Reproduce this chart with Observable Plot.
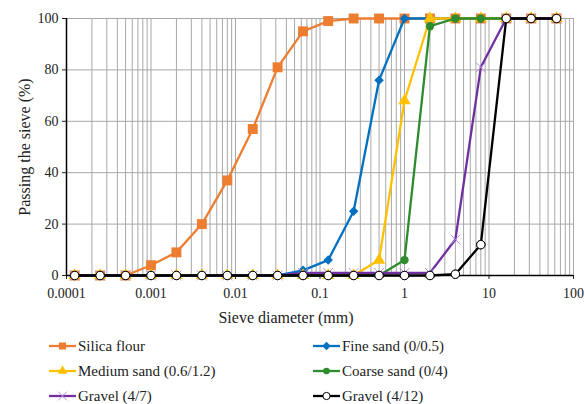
<!DOCTYPE html>
<html>
<head>
<meta charset="utf-8">
<script src="https://cdn.jsdelivr.net/npm/d3@7"></script>
<script src="https://cdn.jsdelivr.net/npm/@observablehq/plot@0.6"></script>
<style>
  html, body { margin: 0; padding: 0; background: #fff; }
  body { width: 585px; height: 404px; overflow: hidden; font-family: "Liberation Serif", "DejaVu Serif", serif; }
  #legend { position: relative; width: 585px; height: 74px; }
  .item { position: absolute; display: flex; align-items: center; font-size: 15px; color: #222; height: 20px; }
  .item svg { display: block; margin-right: 2px; }
  svg text { font-family: "Liberation Serif", "DejaVu Serif", serif; }
</style>
</head>
<body>
<div id="chart"></div>
<div id="legend"></div>
<script>
// Sieve sizes (mm)
const sizes = [0.000125, 0.00025, 0.0005, 0.001, 0.002, 0.004, 0.008, 0.016, 0.0315, 0.063, 0.125, 0.25, 0.5, 1, 2, 4, 8, 16, 31.5, 63];

// Passing the sieve (%)
const silicaFlour  = [0, 0, 0, 4, 9, 20, 37, 57, 81, 95, 99, 100, 100, 100, 100, 100, 100, 100, 100, 100];
const fineSand     = [0, 0, 0, 0, 0, 0, 0, 0, 0, 2, 6, 25, 76, 100, 100, 100, 100, 100, 100, 100];
const mediumSand   = [0, 0, 0, 0, 0, 0, 0, 0, 0, 0, 0, 0, 6, 68, 100, 100, 100, 100, 100, 100];
const coarseSand   = [0, 0, 0, 0, 0, 0, 0, 0, 0, 0, 0, 0, 0, 6, 97, 100, 100, 100, 100, 100];
const gravel47     = [0, 0, 0, 0, 0, 0, 0, 0, 0, 1, 1, 1, 1, 1, 1, 14, 81, 100, 100, 100];
const gravel412    = [0, 0, 0, 0, 0, 0, 0, 0, 0, 0, 0, 0, 0, 0, 0, 0.5, 12, 100, 100, 100];

const seriesNames = ["Silica flour", "Fine sand (0/0.5)", "Medium sand (0.6/1.2)", "Coarse sand (0/4)", "Gravel (4/7)", "Gravel (4/12)"];
const seriesValues = [silicaFlour, fineSand, mediumSand, coarseSand, gravel47, gravel412];

const xTicks = [0.0001, 0.001, 0.01, 0.1, 1, 10, 100];
const yTicks = [0, 20, 40, 60, 80, 100];
const xTitle = "Sieve diameter (mm)";
const yTitle = "Passing the sieve (%)";

const FONT = '"Liberation Serif", "DejaVu Serif", serif';

const styles = [
  {color: "#ED7D31", symbol: "square", r: 5.6, fill: "#ED7D31", stroke: "none", lr: 4},
  {color: "#0070C0", symbol: "diamond2", r: 4.3, fill: "#0070C0", stroke: "none", lr: 3.4},
  {color: "#FFC000", symbol: "triangle", r: 4.6, fill: "#FFC000", stroke: "none", lr: 3.6},
  {color: "#2E8B2E", symbol: "circle", r: 4.2, fill: "#2E8B2E", stroke: "none", lr: 3.3},
  {color: "#7030A0", symbol: "times", r: 4.5, fill: "none", stroke: "#B48FD8", lr: 4},
  {color: "#000000", symbol: "circle", r: 4.2, fill: "#ffffff", stroke: "#000000", lr: 3.6}
];

// grid positions: 1..9 x 10^k
const gridX = [];
for (let k = -4; k <= 1; k++) for (let m = 1; m <= 9; m++) gridX.push(m * Math.pow(10, k));
gridX.push(100);

const data = [];
seriesNames.forEach((name, i) => {
  sizes.forEach((s, j) => data.push({series: name, idx: i, size: s, pass: seriesValues[i][j]}));
});

const marks = [
  Plot.ruleX(gridX, {stroke: "#a8a8a8", strokeWidth: 1}),
  Plot.ruleY(yTicks.filter(d => d > 0), {stroke: "#a8a8a8", strokeWidth: 1}),
  Plot.axisX({ticks: xTicks, tickFormat: d => d.toString(), tickSize: 4, fontSize: 14, tickPadding: 9, label: null}),
  Plot.axisY({ticks: yTicks, tickSize: 4, fontSize: 14, tickPadding: 4,
    label: yTitle, labelAnchor: "center", labelOffset: 48, labelArrow: "none"}),
  Plot.text([xTitle], {frameAnchor: "bottom", text: d => d, dx: -34, dy: 47, fontSize: 16, fill: "#222"}),
  Plot.ruleX([0.0001], {stroke: "#000", strokeWidth: 1.5}),
];
seriesNames.forEach((name, i) => {
  const st = styles[i];
  const d = data.filter(e => e.idx === i);
  marks.push(Plot.line(d, {x: "size", y: "pass", stroke: st.color, strokeWidth: 2.3}));
  marks.push(Plot.dot(d, {x: "size", y: "pass", symbol: () => st.symbol, r: st.r,
    fill: st.fill, stroke: st.stroke, strokeWidth: 1}));
});
marks.push(Plot.ruleY([0], {stroke: "#000", strokeWidth: 1.5}));
{
  const st = styles[5];
  const d = data.filter(e => e.idx === 5);
  marks.push(Plot.dot(d, {x: "size", y: "pass", symbol: "circle", r: st.r, fill: st.fill, stroke: st.stroke, strokeWidth: 1}));
}

const chart = Plot.plot({
  width: 585,
  height: 330,
  marginLeft: 66,
  marginRight: 12,
  marginTop: 18,
  marginBottom: 55,
  style: {fontFamily: FONT, fontSize: "14px", color: "#222", background: "#fff"},
  x: {type: "log", domain: [0.0001, 100]},
  y: {domain: [0, 100]},
  marks
});
chart.querySelectorAll('[aria-label="y-axis label"] text').forEach(t => t.setAttribute("font-size", "16"));
document.getElementById("chart").appendChild(chart);

// Legend
const legend = document.getElementById("legend");
const pos = [[49, 6], [313, 6], [49, 31], [313, 31], [49, 56], [313, 56]];
const symMap = {square: d3.symbolSquare, diamond2: d3.symbolSquare, triangle: d3.symbolTriangle, circle: d3.symbolCircle, times: d3.symbolTimes};
seriesNames.forEach((name, i) => {
  const st = styles[i];
  const div = document.createElement("div");
  div.className = "item";
  div.style.left = pos[i][0] + "px";
  div.style.top = pos[i][1] + "px";
  const svg = d3.create("svg").attr("width", 27).attr("height", 20);
  svg.append("line").attr("x1", 0).attr("x2", 27).attr("y1", 10).attr("y2", 10)
    .attr("stroke", st.color).attr("stroke-width", 2.3);
  const size = st.lr * st.lr * Math.PI;
  svg.append("path").attr("d", d3.symbol(symMap[st.symbol], size)())
    .attr("transform", `translate(13.5,10)${st.symbol === "diamond2" ? " rotate(45)" : ""}`)
    .attr("fill", st.fill).attr("stroke", st.stroke).attr("stroke-width", 1);
  div.appendChild(svg.node());
  const span = document.createElement("span");
  span.textContent = name;
  div.appendChild(span);
  legend.appendChild(div);
});
</script>
</body>
</html>
